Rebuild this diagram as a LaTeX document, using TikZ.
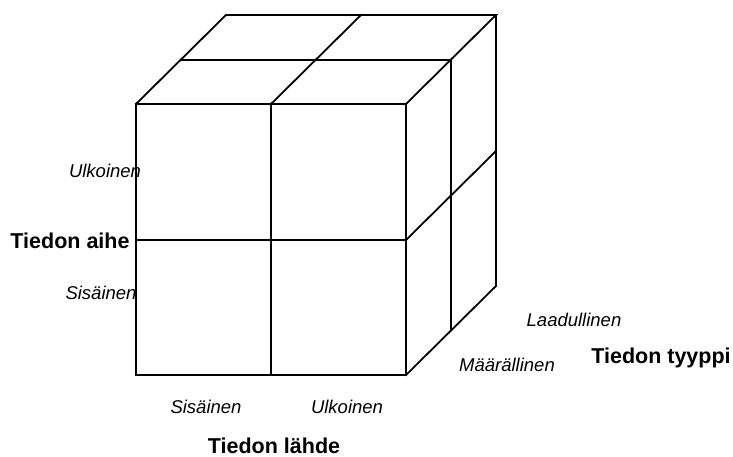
\documentclass[tikz,border=0pt]{standalone}
\usepackage{fontspec}
\setmainfont{Liberation Sans}

\begin{document}
\begin{tikzpicture}[x=1pt, y=-1pt,
  edge/.style={line width=1.8pt, line join=miter, line cap=rect},
  val/.style={font=\itshape\fontsize{18.5}{20}\selectfont, anchor=base, inner sep=0pt},
  axis/.style={font=\bfseries\fontsize{21.5}{23}\selectfont, anchor=base, inner sep=0pt},
]
\useasboundingbox (0,0) rectangle (733,457);

%% Cube corners (front face, then depth offset)
\coordinate (FTL) at (136,104);
\coordinate (FTR) at (406,104);
\coordinate (FBL) at (136,375);
\coordinate (FBR) at (406,375);
\coordinate (BTL) at (226,15);
\coordinate (BTR) at (496,15);
\coordinate (BBR) at (496,286);

%% Front face
\draw[edge] (FTL) rectangle (FBR);
\draw[edge] (271,104) -- (271,375);
\draw[edge] (136,240) -- (406,240);

%% Top face
\draw[edge] (FTL) -- (BTL) -- (BTR) -- (FTR);
\draw[edge] (181,60) -- (451,60);
\draw[edge] (271,104) -- (361,15);

%% Right face
\draw[edge] (BTR) -- (BBR) -- (FBR);
\draw[edge] (451,60) -- (451,330);
\draw[edge] (406,240) -- (496,151);

%% Tiedon aihe
\node[val]  (aiheUlk) at (105,178) {Ulkoinen};
\node[axis] (aihe)    at (70,248)  {Tiedon aihe};
\node[val]  (aiheSis) at (101,299) {Sisäinen};

%% Tiedon lähde
\node[val]  (lahdeSis) at (206,413) {Sisäinen};
\node[val]  (lahdeUlk) at (347,413) {Ulkoinen};
\node[axis] (lahde)    at (274,453) {Tiedon lähde};

%% Tiedon tyyppi
\node[val]  (tyyppiLaa) at (574,326) {Laadullinen};
\node[val]  (tyyppiMaa) at (507,371) {Määrällinen};
\node[axis] (tyyppi)    at (661,363) {Tiedon tyyppi};

\end{tikzpicture}
\end{document}
